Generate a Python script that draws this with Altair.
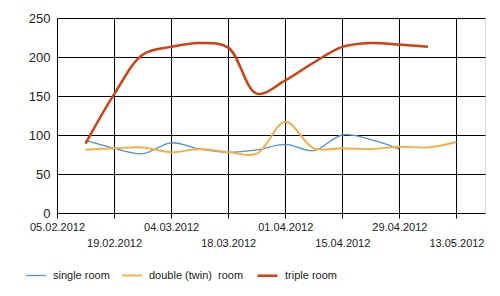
import altair as alt
import pandas as pd

dates = ["2012-02-12", "2012-02-19", "2012-02-26", "2012-03-04", "2012-03-11",
         "2012-03-18", "2012-03-25", "2012-04-01", "2012-04-08", "2012-04-15",
         "2012-04-22", "2012-04-29", "2012-05-06", "2012-05-13"]
single_room = [93, 83, 76, 90, 82, 78, 81, 88, 80, 100, 94, 82, None, None]
double_room = [81, 83, 84, 78, 82, 78, 76, 117, 83, 83, 82, 85, 84, 91]
triple_room = [89, 152, 203, 213, 218, 212, 153, 170, 193, 213, 218, 216, 213, None]
series_names = ["single room", "double (twin)\u00a0 room", "triple room"]
colors = ["#4f8fdc", "#f4ae3d", "#d2400f"]
widths = [1.3, 2.5, 3.5]

rows = []
for name, vals in zip(series_names, [single_room, double_room, triple_room]):
    for d, v in zip(dates, vals):
        if v is not None:
            rows.append({"date": d, "value": v, "series": name})
df = pd.DataFrame(rows)

tick_dates = [alt.DateTime(year=2012, month=m, date=d, utc=True)
              for m, d in [(2, 5), (2, 19), (3, 4), (3, 18), (4, 1), (4, 15), (4, 29), (5, 13)]]

font = "Liberation Sans"

legend_kw = dict(title=None, orient="none", direction="horizontal",
                 legendX=-32, legendY=246, symbolType="stroke",
                 symbolSize=400, labelOffset=6, columnPadding=8,
                 labelFontSize=11, labelFont=font, labelColor="#222222")

chart = alt.Chart(df).mark_line(interpolate="catmull-rom").encode(
    x=alt.X("date:T",
            scale=alt.Scale(type="utc",
                            domain=[alt.DateTime(year=2012, month=2, date=5, utc=True),
                                    alt.DateTime(year=2012, month=5, date=20, utc=True)]),
            axis=alt.Axis(values=tick_dates, title=None, domain=False,
                          labelExpr="utcFormat(datum.value, '%d.%m.%Y')",
                          labelPadding={"condition": {"test": "round((datum.value - 1328400000000) / 1209600000) % 2 == 1", "value": 19}, "value": 3},
                          labelAlign="center", labelBaseline="top",
                          labelFontSize=11, labelColor="#222222", labelFont=font,
                          tickColor="#000000", tickSize=5, gridColor="#000000",
                          gridOpacity=1, gridWidth=1, labelOverlap=False,
                          labelFlush=False)),
    y=alt.Y("value:Q", scale=alt.Scale(domain=[0, 250]),
            axis=alt.Axis(values=[0, 50, 100, 150, 200, 250], title=None, domain=False,
                          ticks=False, labelPadding=7, labelFontSize=13,
                          labelColor="#222222", labelFont=font, gridColor="#000000",
                          gridOpacity=1, gridWidth=1)),
    color=alt.Color("series:N",
                    scale=alt.Scale(domain=series_names, range=colors),
                    legend=alt.Legend(**legend_kw)),
    strokeWidth=alt.StrokeWidth("series:N",
                                scale=alt.Scale(domain=series_names, range=widths),
                                legend=alt.Legend(**legend_kw)),
).properties(
    width=428, height=195,
    autosize=alt.AutoSizeParams(type="none"),
    padding={"left": 57, "top": 18, "right": 15, "bottom": 83},
).configure_view(stroke=None).configure(background="white")

chart.save("out.html", embed_options={"renderer": "svg", "actions": False})
